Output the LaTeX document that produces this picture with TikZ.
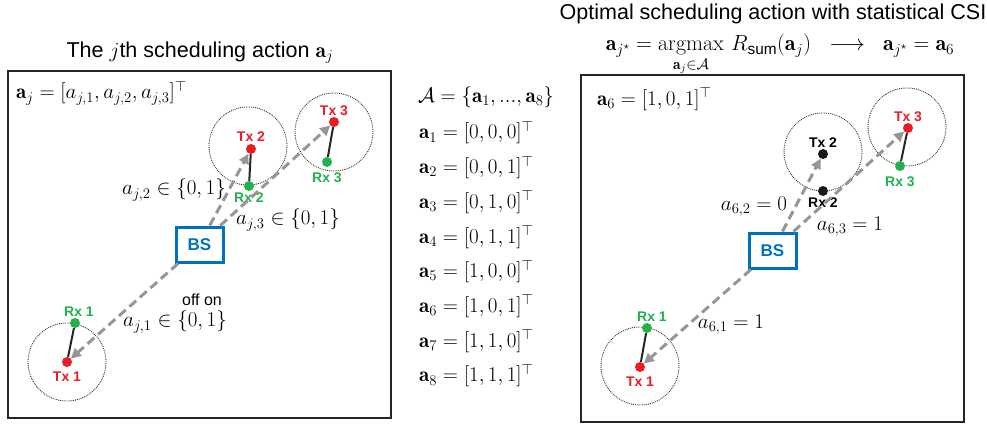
\RequirePackage{fix-cm}
\documentclass[tikz,border=0pt]{standalone}
\usepackage{amsmath,amssymb}
\usepackage{fontspec}
\setsansfont{Liberation Sans}
\usetikzlibrary{arrows.meta}

\definecolor{txred}{RGB}{237,28,36}
\definecolor{rxgreen}{RGB}{34,177,76}
\definecolor{bsblue}{RGB}{0,112,192}
\definecolor{linkgray}{RGB}{150,150,150}

\begin{document}
\begin{tikzpicture}[
    x=1pt, y=-1pt,
    every node/.style={font=\sffamily},
    frame/.style={line width=2.5pt, draw=black!85},
    cell/.style={circle, draw=black!80, densely dotted, line width=0.9pt,
                 minimum size=78pt, inner sep=0pt},
    tx/.style={circle, fill=txred, inner sep=0pt, minimum size=10pt},
    rx/.style={circle, fill=rxgreen, inner sep=0pt, minimum size=10pt},
    idle/.style={circle, fill=black!90, inner sep=0pt, minimum size=10pt},
    dlbl/.style={font=\sffamily\bfseries\fontsize{14}{16}\selectfont, inner sep=1pt},
    bs/.style={draw=bsblue, line width=3pt, minimum width=47pt, minimum height=35pt,
               text=bsblue, font=\sffamily\bfseries\fontsize{17}{20}\selectfont},
    link/.style={linkgray, line width=3pt, dash pattern=on 9pt off 5pt,
                 -{Triangle[length=10pt,width=10pt]}},
    pair/.style={line width=2pt, black!85},
    mlbl/.style={font=\fontsize{21}{24}\selectfont, inner sep=1pt},
    ttl/.style={font=\sffamily\fontsize{21.5}{24}\selectfont},
]
\useasboundingbox (0,0) rectangle (987,428);

% ── Títulos ──
\node[ttl, anchor=base] (ttlL) at (200,57) {The $j$th scheduling action $\mathbf{a}_j$};
\node[ttl, anchor=base] (ttlR) at (773,20) {Optimal scheduling action with statistical CSI};
\node[mlbl, font=\fontsize{22}{25}\selectfont, anchor=base] (optEq) at (780,51)
    {$\displaystyle \mathbf{a}_{j^\star}=\operatorname*{argmax}_{\mathbf{a}_j\in\mathcal{A}}\,
      R_{\textsf{sum}}(\mathbf{a}_j)\;\;\longrightarrow\;\;\mathbf{a}_{j^\star}=\mathbf{a}_6$};

% ── Marcos ──
\draw[frame] (8,71) rectangle (391,418);
\draw[frame] (581,75) rectangle (964,422);

% ── Panel izquierdo: acción j ──
\node[mlbl, anchor=west] (vecL) at (15,93) {$\mathbf{a}_j=[a_{j,1},a_{j,2},a_{j,3}]^{\top}$};

\node[cell] (cell1L) at (67,362) {};
\node[cell] (cell2L) at (248,146) {};
\node[cell] (cell3L) at (334,132) {};

\node[tx, label={[dlbl, text=txred, label distance=3pt]below:Tx 1}] (tx1L) at (67,362) {};
\node[rx, label={[dlbl, text=rxgreen, xshift=4pt]above:Rx 1}] (rx1L) at (75,323) {};
\node[tx, label={[dlbl, text=txred, label distance=1pt]above:Tx 2}] (tx2L) at (251,149) {};
\node[rx, label={[dlbl, text=rxgreen]below:Rx 2}] (rx2L) at (249,186) {};
\node[tx, label={[dlbl, text=txred]above:Tx 3}] (tx3L) at (334,122) {};
\node[rx, label={[dlbl, text=rxgreen, label distance=4pt]below:Rx 3}] (rx3L) at (327,162) {};

\node[bs] (bsL) at (199.5,244.5) {BS};

\draw[pair] (tx1L) -- (rx1L);
\draw[pair] (tx2L) -- (rx2L);
\draw[pair] (tx3L) -- (rx3L);
\draw[link] (bsL) -- (tx1L);
\draw[link] (bsL) -- (tx2L);
\draw[link] (bsL) -- (tx3L);

\node[mlbl] (a2L) at (174,190) {$a_{j,2}\in\{0,1\}$};
\node[mlbl] (a3L) at (288,220) {$a_{j,3}\in\{0,1\}$};
\node[mlbl] (a1L) at (175,322) {$a_{j,1}\in\{0,1\}$};
\node[font=\sffamily\fontsize{16}{18}\selectfont] (onoff) at (202,300) {off on};

% ── Conjunto de acciones ──
\node[mlbl] (setA) at (486,97) {$\mathcal{A}=\{\mathbf{a}_1,...,\mathbf{a}_8\}$};
\foreach \v [count=\i] in {{0,0,0},{0,0,1},{0,1,0},{0,1,1},{1,0,0},{1,0,1},{1,1,0},{1,1,1}}
    \node[mlbl, anchor=west] (act\i) at (418,98+\i*34.7) {$\mathbf{a}_{\i}=[\v]^{\top}$};

% ── Panel derecho: acción óptima a6 ──
\node[mlbl, anchor=west] (vecR) at (596,99) {$\mathbf{a}_6=[1,0,1]^{\top}$};

\node[cell] (cell1R) at (640,366) {};
\node[cell] (cell2R) at (823,152) {};
\node[cell] (cell3R) at (907,127) {};

\node[tx, label={[dlbl, text=txred, label distance=3pt]below:Tx 1}] (tx1R) at (640,367) {};
\node[rx, label={[dlbl, text=rxgreen, xshift=5pt]above:Rx 1}] (rx1R) at (647,328) {};
\node[idle, label={[dlbl, text=black]above:Tx 2}] (tx2R) at (823,154) {};
\node[idle, label={[dlbl, text=black]below:Rx 2}] (rx2R) at (823,191) {};
\node[tx, label={[dlbl, text=txred]above:Tx 3}] (tx3R) at (908,128) {};
\node[rx, label={[dlbl, text=rxgreen, label distance=4pt]below:Rx 3}] (rx3R) at (900,166) {};

\node[bs] (bsR) at (772.5,250.5) {BS};

\draw[pair] (tx1R) -- (rx1R);
\draw[pair] (tx3R) -- (rx3R);
\draw[link] (bsR) -- (tx1R);
\draw[link] (bsR) -- (tx2R);
\draw[link] (bsR) -- (tx3R);

\node[mlbl, fill=white] (a2R) at (754,207) {$a_{6,2}=0$};
\node[mlbl] (a3R) at (850,227) {$a_{6,3}=1$};
\node[mlbl] (a1R) at (731,325) {$a_{6,1}=1$};
\end{tikzpicture}
\end{document}
